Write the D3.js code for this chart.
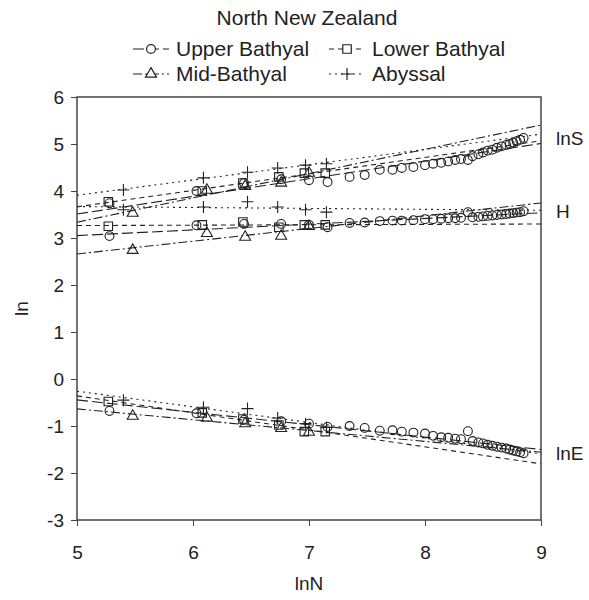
<!DOCTYPE html>
<html>
<head>
<meta charset="utf-8">
<script src="https://cdn.jsdelivr.net/npm/d3@7"></script>
<style>
  body { margin: 0; background: #fff; }
  svg { font-family: 'Liberation Sans', Arial, sans-serif; }
</style>
</head>
<body>
<div id="chart"></div>
<script>
// values
const seriesNames = ['Upper Bathyal', 'Mid-Bathyal', 'Lower Bathyal', 'Abyssal'];
const metricNames = ['lnS', 'H', 'lnE'];
const xTicks = [5, 6, 7, 8, 9];
const yTicks = [-3, -2, -1, 0, 1, 2, 3, 4, 5, 6];

const upperLnN = [5.28, 6.03, 6.44, 6.76, 7.00, 7.16, 7.35, 7.48, 7.61, 7.72, 7.80, 7.90, 8.00, 8.07, 8.14, 8.20, 8.26, 8.31, 8.37, 8.41, 8.46, 8.50, 8.54, 8.58, 8.62, 8.66, 8.70, 8.73, 8.76, 8.79, 8.82, 8.85];
const upperLnS = [3.74, 4.00, 4.17, 4.25, 4.23, 4.19, 4.30, 4.34, 4.45, 4.45, 4.49, 4.51, 4.55, 4.58, 4.60, 4.63, 4.66, 4.68, 4.66, 4.74, 4.78, 4.82, 4.86, 4.88, 4.92, 4.95, 4.98, 5.00, 5.03, 5.06, 5.09, 5.13];
const upperH   = [3.04, 3.27, 3.30, 3.30, 3.28, 3.23, 3.32, 3.33, 3.36, 3.37, 3.37, 3.38, 3.40, 3.40, 3.41, 3.42, 3.42, 3.43, 3.55, 3.44, 3.45, 3.46, 3.47, 3.48, 3.49, 3.50, 3.51, 3.52, 3.53, 3.54, 3.55, 3.57];
const upperLnE = [-0.68, -0.73, -0.87, -0.90, -0.95, -1.02, -1.00, -1.04, -1.10, -1.09, -1.12, -1.14, -1.16, -1.21, -1.24, -1.25, -1.27, -1.28, -1.11, -1.32, -1.35, -1.37, -1.40, -1.42, -1.44, -1.46, -1.48, -1.50, -1.52, -1.54, -1.56, -1.58];

const midLnN = [5.48, 6.12, 6.45, 6.76, 7.00];
const midLnS = [3.53, 4.02, 4.10, 4.17, 4.38];
const midH   = [2.74, 3.10, 3.02, 3.04, 3.25];
const midLnE = [-0.79, -0.83, -0.95, -1.05, -1.13];

const lowerLnN = [5.27, 6.08, 6.43, 6.74, 6.96, 7.14];
const lowerLnS = [3.77, 4.00, 4.17, 4.30, 4.38, 4.38];
const lowerH   = [3.25, 3.28, 3.34, 3.23, 3.28, 3.28];
const lowerLnE = [-0.48, -0.72, -0.85, -0.98, -1.12, -1.12];

const abyssalLnN = [5.40, 6.09, 6.47, 6.73, 6.97, 7.15];
const abyssalLnS = [4.02, 4.28, 4.40, 4.49, 4.55, 4.58];
const abyssalH   = [3.60, 3.66, 3.77, 3.66, 3.60, 3.55];
const abyssalLnE = [-0.45, -0.60, -0.63, -0.83, -0.95, -1.03];

const series = [
  { name: seriesNames[0], x: upperLnN, ys: [upperLnS, upperH, upperLnE], symbol: 'circle', dash: '11,4' },
  { name: seriesNames[1], x: midLnN, ys: [midLnS, midH, midLnE], symbol: 'triangle', dash: '9,3,2,3' },
  { name: seriesNames[2], x: lowerLnN, ys: [lowerLnS, lowerH, lowerLnE], symbol: 'square', dash: '5,4' },
  { name: seriesNames[3], x: abyssalLnN, ys: [abyssalLnS, abyssalH, abyssalLnE], symbol: 'plus', dash: '2,4' },
];

const width = 589, height = 600;
const margin = { top: 97, right: 48, bottom: 80, left: 77 };
const ink = '#222';

const svg = d3.select('#chart').append('svg')
  .attr('width', width)
  .attr('height', height);

const x = d3.scaleLinear().domain([5, 9]).range([margin.left, width - margin.right]);
const y = d3.scaleLinear().domain([-3, 6]).range([height - margin.bottom, margin.top]);

function symbolPath(kind) {
  if (kind === 'circle') return d3.symbol(d3.symbolCircle, Math.PI * 4.4 * 4.4)();
  if (kind === 'square') return d3.symbol(d3.symbolSquare, 72)();
  if (kind === 'triangle') return d3.symbol(d3.symbolTriangle, 52)();
  return 'M-6,0H6M0,-6V6';
}

function fit(xs, ys) {
  const mx = d3.mean(xs), my = d3.mean(ys);
  let sxy = 0, sxx = 0;
  xs.forEach((v, i) => { sxy += (v - mx) * (ys[i] - my); sxx += (v - mx) * (v - mx); });
  const b = sxy / sxx;
  return v => my + b * (v - mx);
}

// title + legend
svg.append('text')
  .attr('x', 307).attr('y', 25)
  .attr('text-anchor', 'middle')
  .attr('font-size', 21)
  .attr('fill', ink)
  .text('North New Zealand');

const legendPos = [[133, 49], [133, 74], [329, 49], [329, 74]];
series.forEach((s, i) => {
  const [lx, ly] = legendPos[i];
  const g = svg.append('g').attr('transform', `translate(${lx},${ly})`);
  g.append('line')
    .attr('x1', 0).attr('x2', 36).attr('y1', 0).attr('y2', 0)
    .attr('stroke', ink).attr('stroke-width', 1.2)
    .attr('stroke-dasharray', s.dash);
  g.append('path')
    .attr('d', symbolPath(s.symbol))
    .attr('transform', 'translate(18,0)')
    .attr('fill', '#fff').attr('stroke', ink).attr('stroke-width', 1.2);
  g.append('text')
    .attr('x', 43).attr('y', 7)
    .attr('font-size', 21)
    .attr('fill', ink)
    .text(s.name);
});

// axes
svg.append('g')
  .attr('transform', `translate(${margin.left},0)`)
  .call(d3.axisLeft(y).tickValues(yTicks).tickSize(6).tickPadding(7).tickFormat(d => String(d)))
  .call(g => g.select('.domain').remove());
svg.append('g')
  .attr('transform', `translate(0,${height - margin.bottom})`)
  .call(d3.axisBottom(x).tickValues(xTicks).tickSize(6).tickPadding(20).tickFormat(d => String(d)))
  .call(g => g.select('.domain').remove());
svg.selectAll('.tick text').attr('font-size', 19).attr('fill', ink).attr('font-family', null);
svg.selectAll('.tick line').attr('stroke', '#444');

svg.append('rect')
  .attr('x', margin.left).attr('y', margin.top)
  .attr('width', width - margin.left - margin.right)
  .attr('height', height - margin.top - margin.bottom)
  .attr('fill', 'none').attr('stroke', '#444').attr('stroke-width', 1.5);

svg.append('text')
  .attr('x', x(7)).attr('y', 590)
  .attr('text-anchor', 'middle')
  .attr('font-size', 19).attr('fill', ink)
  .text('lnN');
svg.append('text')
  .attr('transform', `translate(28,${y(1.5)}) rotate(-90)`)
  .attr('text-anchor', 'middle')
  .attr('font-size', 19).attr('fill', ink)
  .text('ln');

// regression lines across the whole lnN range
const plot = svg.append('g');
const line = d3.line().x(d => x(d[0])).y(d => y(d[1]));
series.forEach(s => {
  s.ys.forEach(ys => {
    const f = fit(s.x, ys);
    plot.append('path')
      .attr('d', line(x.domain().map(v => [v, f(v)])))
      .attr('fill', 'none')
      .attr('stroke', ink).attr('stroke-width', 1.1)
      .attr('stroke-dasharray', s.dash);
  });
});

// markers
series.forEach(s => {
  s.ys.forEach(ys => {
    plot.selectAll(null)
      .data(s.x.map((v, i) => [v, ys[i]]))
      .enter().append('path')
      .attr('d', symbolPath(s.symbol))
      .attr('transform', d => `translate(${x(d[0])},${y(d[1])})`)
      .attr('fill', 'none')
      .attr('stroke', ink).attr('stroke-width', 1.1);
  });
});

// metric labels on the right, level with the last Upper Bathyal value
metricNames.forEach((m, k) => {
  const ys = series[0].ys[k];
  svg.append('text')
    .attr('x', width - margin.right + 15)
    .attr('y', y(ys[ys.length - 1]) + 7)
    .attr('font-size', 19).attr('fill', ink)
    .text(m);
});
</script>
</body>
</html>
